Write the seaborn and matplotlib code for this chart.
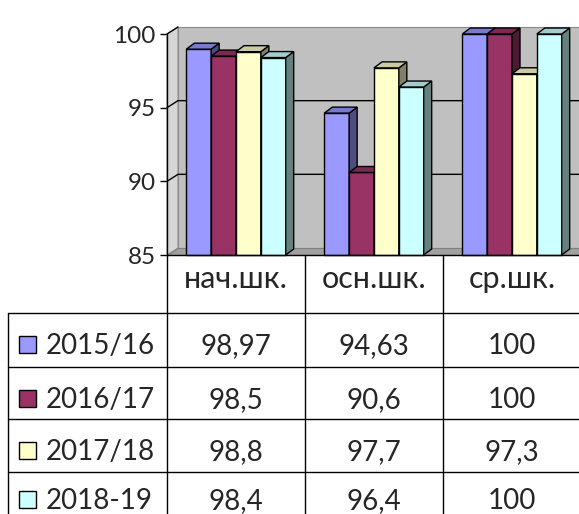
import matplotlib
matplotlib.use("Agg")
import matplotlib.pyplot as plt
from matplotlib.patches import Polygon, Rectangle
import numpy as np
import pandas as pd
import seaborn as sns

# данные
уровни = ['нач.шк.', 'осн.шк.', 'ср.шк.']
годы = ['2015/16', '2016/17', '2017/18', '2018-19']
v_2015 = [98.97, 94.63, 100]
v_2016 = [98.5, 90.6, 100]
v_2017 = [98.8, 97.7, 97.3]
v_2018 = [98.4, 96.4, 100]
y_ticks = [85, 90, 95, 100]

# цвета: лицевая грань, боковая, верхняя
цвета = ['#9999FF', '#993366', '#FFFFCC', '#CCFFFF']
бок = ['#4D4D80', '#4D1A33', '#808066', '#668080']
верх = ['#7A7ACC', '#7A2952', '#CCCCA3', '#A3CCCC']

значения = [v_2015, v_2016, v_2017, v_2018]
df = pd.DataFrame([(u, g, vals[i]) for g, vals in zip(годы, значения)
                   for i, u in enumerate(уровни)],
                  columns=['уровень', 'год', 'процент'])

sns.set_style('white')
plt.rcParams['font.family'] = ['Lato', 'DejaVu Sans']

W, H = 579, 514
fig = plt.figure(figsize=(W / 100, H / 100), dpi=100)

# геометрия в пикселях
x_left, x_right = 167, 579
y_floor, y_top = 255, 34
cat_w = 138
ymin, ymax = y_ticks[0], y_ticks[-1]

tab = fig.add_axes([0, 0, 1, 1], zorder=0)
tab.set_xlim(0, W)
tab.set_ylim(H, 0)
tab.axis('off')

ax = fig.add_axes([x_left / W, (H - y_floor) / H, (x_right - x_left) / W,
                   (y_floor - y_top) / H], zorder=1)
ax.patch.set_alpha(0)

sns.barplot(data=df, x='уровень', y='процент', hue='год', palette=цвета,
            width=0.72, edgecolor='black', linewidth=1, ax=ax, legend=False,
            saturation=1, errorbar=None)

ax.set_xlim(-0.5, -0.5 + (x_right - x_left) / cat_w)
ax.set_ylim(ymin, ymax)
px_x = 1 / cat_w
px_y = (ymax - ymin) / (y_floor - y_top)

# стены (псевдо-3D)
wdx, wdy = 11 * px_x, 7 * px_y
x0 = -0.5
xr = 2.7
ax.add_patch(Polygon([(x0 + wdx, ymin + wdy), (xr, ymin + wdy), (xr, ymax + wdy),
                      (x0 + wdx, ymax + wdy)], closed=True, fc='#C0C0C0',
                     ec='#8C8C8C', lw=0.8, clip_on=False, zorder=0.5))
ax.add_patch(Polygon([(x0, ymin), (x0, ymax), (x0 + wdx, ymax + wdy),
                      (x0 + wdx, ymin + wdy)], closed=True, fc='#D6D6D6',
                     ec='#8C8C8C', lw=0.8, clip_on=False, zorder=0.6))
ax.add_patch(Polygon([(x0, ymin), (xr, ymin), (xr, ymin + wdy),
                      (x0 + wdx, ymin + wdy)], closed=True, fc='#A0A0A0',
                     ec='#808080', lw=0.8, clip_on=False, zorder=0.7))
for t in y_ticks[1:-1]:
    ax.plot([x0, x0 + wdx, xr], [t, t + wdy, t + wdy], color='black', lw=1,
            clip_on=False, zorder=0.8)
ax.plot([x0, x0 + wdx], [ymax, ymax + wdy], color='black', lw=1,
        clip_on=False, zorder=0.8)

# грани столбиков
bdx, bdy = 8 * px_x, 6 * px_y
for i, cont in enumerate(ax.containers):
    for p in cont.patches:
        x, w, h = p.get_x(), p.get_width(), p.get_height()
        p.set_y(ymin)
        p.set_height(h - ymin)
        p.set_clip_on(False)
        p.set_zorder(3 + 2 * i)
        side = Polygon([(x + w, ymin), (x + w, h), (x + w + bdx, h + bdy),
                        (x + w + bdx, ymin + bdy)], closed=True, fc=бок[i],
                       ec='black', lw=1, clip_on=False, zorder=3.5 + 2 * i)
        top = Polygon([(x, h), (x + w, h), (x + w + bdx, h + bdy),
                       (x + bdx, h + bdy)], closed=True, fc=верх[i],
                      ec='black', lw=1, clip_on=False, zorder=3.5 + 2 * i)
        ax.add_patch(side)
        ax.add_patch(top)

ax.set_yticks(y_ticks)
ax.set_yticklabels([str(t) for t in y_ticks], fontsize=17.5)
ax.set_xticks([])
ax.set_xlabel('')
ax.set_ylabel('')
ax.tick_params(axis='y', direction='out', length=5, width=1, color='black',
               pad=3, left=True)
for s in ['top', 'right']:
    ax.spines[s].set_visible(False)
for s in ['left', 'bottom']:
    ax.spines[s].set_color('black')
    ax.spines[s].set_linewidth(1)
    ax.spines[s].set_zorder(20)

# таблица данных
def to_px(xd):
    return ax.transData.transform((xd, ymin))[0]

bounds = [to_px(b) for b in np.arange(len(уровни) + 1) - 0.5]
centers = [to_px(c) for c in range(len(уровни))]
row_lines = [313, 367, 419, 472, 525]
table_left = 8

for b in bounds:
    tab.plot([b, b], [y_floor, H + 5], color='black', lw=1)
tab.plot([table_left, table_left], [row_lines[0], H + 5], color='black', lw=1)
for r in row_lines:
    tab.plot([table_left, W + 5], [r, r], color='black', lw=1)

for c, name in zip(centers, уровни):
    tab.text(c, 288, name, ha='center', va='baseline', fontsize=22)

for i, (g, vals) in enumerate(zip(годы, значения)):
    base = min(row_lines[i] + 41, H - 5)
    tab.add_patch(Rectangle((19, base - 18), 17, 17, fc=цвета[i], ec='black',
                            lw=1))
    tab.text(46, base, g, ha='left', va='baseline', fontsize=20)
    for c, v in zip(centers, vals):
        tab.text(c, base, f'{v:g}'.replace('.', ','), ha='center',
                 va='baseline', fontsize=20)

fig.savefig('out.png', dpi=100)
